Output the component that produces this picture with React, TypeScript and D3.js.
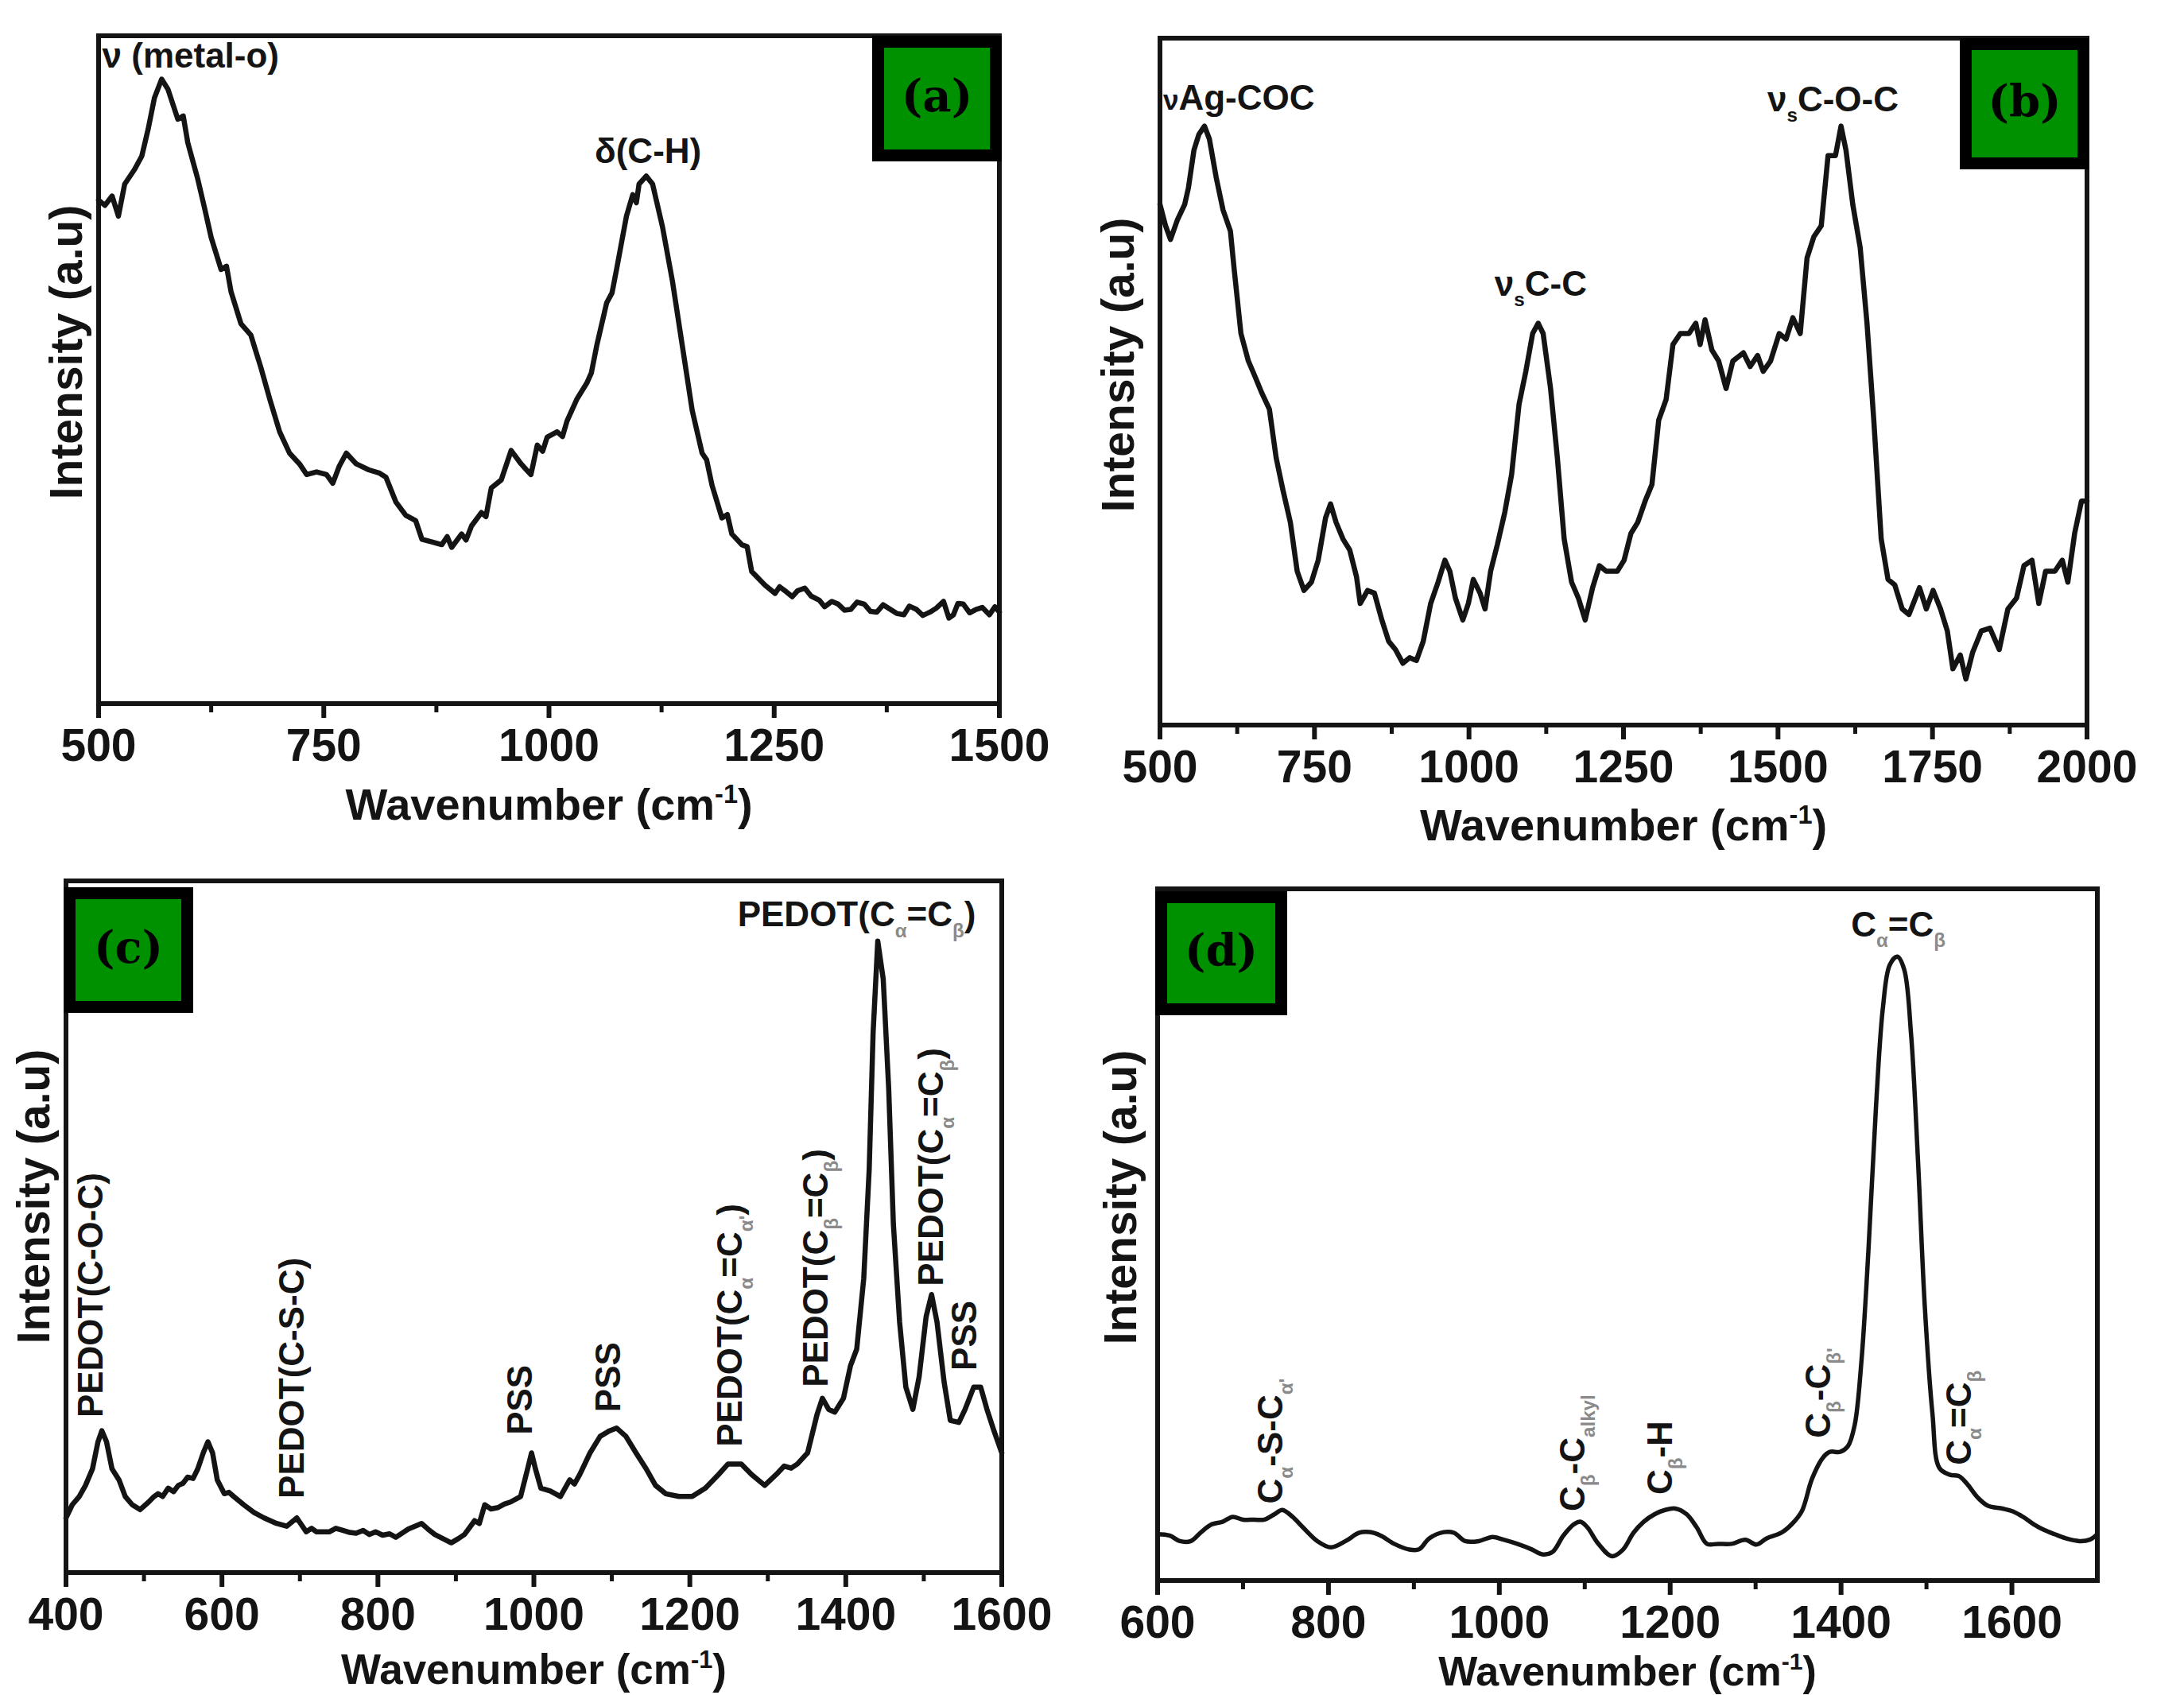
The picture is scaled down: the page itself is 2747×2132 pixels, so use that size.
import React from "react";
import * as d3 from "d3";

// ---- spectra, [wavenumber, intensity %] ----
const specA: [number, number][] = [
  [500, 75.4], [507, 74.6], [515, 76], [522, 73], [529, 77.8], [540, 80], [548, 82], [555, 86], [562, 90.7],
  [570, 93.5], [577, 92], [588, 87.5], [594, 88], [599, 84], [610, 78.6], [618, 74], [625, 69.8], [636, 65],
  [642, 65.5], [647, 61.7], [658, 56.9], [669, 55.2], [674, 53], [680, 50.4], [690, 45.6], [701, 40.7],
  [712, 37.5], [723, 35.9], [731, 34.3], [742, 34.7], [753, 34.3], [760, 33], [767, 35.5], [775, 37.5],
  [786, 35.9], [800, 35], [812, 34.5], [819, 33.9], [830, 30.2], [841, 28.2], [852, 27.4], [859, 24.6],
  [870, 24.2], [881, 23.8], [887, 25], [892, 23.4], [903, 25.4], [908, 24.5], [914, 26.6], [925, 28.6],
  [930, 28], [936, 32.3], [947, 33.5], [958, 37.9], [969, 35.9], [975, 35], [980, 34.3], [987, 38.7],
  [993, 37.8], [998, 39.9], [1009, 40.7], [1015, 40], [1020, 42.3], [1031, 45.6], [1042, 48], [1047, 49.5],
  [1053, 53.6], [1064, 60], [1070, 61.5], [1075, 65], [1086, 73], [1093, 76.2], [1097, 75], [1100, 77.8],
  [1108, 79], [1115, 77.8], [1126, 71.4], [1137, 63.3], [1148, 53.6], [1159, 43.9], [1170, 37.5],
  [1175, 36.5], [1181, 32.7], [1192, 27.8], [1198, 28.3], [1203, 25.4], [1214, 23.8], [1220, 23.5],
  [1225, 19.8], [1240, 17.7], [1251, 16.5], [1256, 17.5], [1262, 16.9], [1270, 16], [1276, 16.9],
  [1284, 17.3], [1291, 16.1], [1300, 15.5], [1306, 14.5], [1314, 15.3], [1321, 14.9], [1328, 14],
  [1335, 14.1], [1342, 15.2], [1350, 14.9], [1357, 13.8], [1364, 13.7], [1371, 14.8], [1379, 14.1],
  [1386, 13.5], [1394, 13.3], [1400, 14.6], [1408, 14.1], [1415, 13.2], [1423, 13.7], [1430, 14.3],
  [1438, 15.3], [1444, 12.8], [1449, 13.3], [1454, 15], [1460, 14.9], [1467, 13.6], [1474, 14.1],
  [1481, 14.4], [1489, 13.3], [1495, 14.5], [1500, 13.7],
];

const specB: [number, number][] = [
  [500, 75.8], [509, 72.7], [517, 70.7], [528, 73.5], [540, 75.8], [546, 78.2], [555, 83.7], [563, 86],
  [572, 87.2], [580, 85.3], [591, 79.7], [602, 75], [614, 71.9], [620, 66.4], [631, 57], [643, 53],
  [654, 50.7], [665, 48.3], [677, 46], [688, 38.9], [699, 34.2], [711, 29.5], [722, 22.4], [733, 19.6],
  [745, 20.8], [756, 24], [768, 30.2], [776, 32.2], [785, 29.5], [796, 27.1], [807, 25.5], [818, 21.6],
  [824, 17.7], [836, 19.6], [847, 19.2], [859, 15.3], [870, 12.2], [881, 11], [893, 9], [904, 9.8],
  [915, 9.4], [926, 12.2], [938, 17.7], [950, 20.8], [961, 24], [969, 22.4], [978, 18.5], [990, 15.3],
  [999, 17.7], [1007, 21.2], [1018, 19.2], [1026, 16.9], [1035, 22.4], [1046, 26.3], [1058, 31],
  [1069, 36.5], [1081, 46.7], [1092, 51.5], [1103, 57], [1112, 58.5], [1120, 57], [1132, 49], [1143, 38.9],
  [1154, 27.1], [1166, 20.8], [1177, 18.5], [1188, 15.3], [1200, 20], [1211, 23.2], [1222, 22.4],
  [1240, 22.4], [1251, 24], [1262, 27.9], [1273, 29.5], [1285, 32.6], [1296, 35], [1307, 44.4],
  [1319, 47.4], [1330, 55.4], [1342, 57], [1356, 57], [1367, 58.5], [1374, 55.4], [1382, 59], [1393, 54.6],
  [1404, 53], [1416, 49], [1427, 53], [1444, 54.2], [1455, 52.2], [1467, 53.8], [1476, 51.5], [1488, 53],
  [1502, 57], [1513, 56.2], [1524, 59.3], [1536, 57], [1547, 68], [1558, 71.1], [1570, 72.7], [1581, 82.9],
  [1593, 82.9], [1602, 87.2], [1610, 83.7], [1621, 75.8], [1633, 69.5], [1644, 58.5], [1655, 44.4],
  [1667, 27.1], [1678, 21.2], [1689, 20.4], [1701, 16.9], [1712, 16.1], [1729, 20], [1740, 16.9],
  [1751, 19.6], [1763, 16.9], [1774, 13.7], [1783, 8.2], [1795, 10.2], [1804, 6.7], [1815, 10.6],
  [1829, 13.7], [1843, 14.1], [1858, 11], [1872, 16.9], [1886, 18.5], [1898, 23.2], [1911, 24],
  [1922, 17.7], [1933, 22.4], [1948, 22.4], [1960, 24], [1969, 20.8], [1980, 27.9], [1991, 32.6],
  [2000, 32.6],
];

const specC: [number, number][] = [
  [400, 7.9], [408, 9.8], [417, 11], [425, 12.6], [434, 15], [441, 18.9], [446, 20.5], [452, 18.9],
  [459, 15], [468, 13.4], [476, 11], [485, 9.8], [495, 9.1], [506, 10.2], [512, 10.9], [518, 11.4],
  [524, 11], [531, 12.2], [538, 11.7], [544, 12.6], [550, 12.9], [556, 13.8], [563, 13.6], [569, 15],
  [576, 17.3], [582, 18.9], [588, 17.3], [594, 13.4], [603, 11.4], [609, 11.6], [615, 11], [628, 9.8],
  [641, 8.7], [654, 7.9], [670, 7.1], [683, 6.7], [696, 7.9], [708, 5.9], [715, 6.4], [721, 5.9],
  [738, 5.9], [746, 6.4], [755, 6.1], [764, 5.8], [772, 5.7], [781, 6.1], [789, 5.5], [797, 5.9],
  [806, 5.4], [815, 5.6], [823, 5.1], [839, 6.3], [856, 7.1], [864, 6.3], [873, 5.5], [894, 4.3],
  [903, 4.9], [911, 5.5], [924, 7.5], [930, 7.1], [937, 9.8], [945, 9.2], [954, 9.4], [962, 9.9],
  [970, 10.2], [983, 11], [992, 15], [997, 17.3], [1002, 15], [1009, 12.2], [1021, 11.8], [1034, 11],
  [1046, 13.4], [1052, 12.8], [1059, 14.2], [1072, 17.3], [1085, 19.7], [1097, 20.5], [1106, 20.9],
  [1118, 19.7], [1131, 17.3], [1144, 15], [1156, 12.6], [1169, 11.4], [1186, 11], [1203, 11], [1220, 12.2],
  [1237, 14.2], [1249, 15.7], [1266, 15.7], [1279, 14.2], [1296, 12.6], [1311, 14.2], [1321, 15.4],
  [1330, 15.1], [1338, 15.7], [1351, 17.3], [1363, 22.8], [1370, 25.2], [1378, 23.6], [1386, 23.2],
  [1397, 25.2], [1406, 29.9], [1414, 32.3], [1423, 42.5], [1430, 58.3], [1435, 78], [1441, 91.3],
  [1448, 85.8], [1455, 70], [1461, 50.4], [1469, 36.2], [1477, 26.8], [1486, 23.6], [1494, 28.3],
  [1503, 37], [1510, 40.2], [1517, 36.2], [1526, 27.6], [1534, 22], [1545, 21.7], [1553, 23.6],
  [1564, 26.8], [1573, 26.8], [1581, 23.6], [1590, 20.5], [1600, 17.3],
];

const specD: [number, number][] = [
  [600, 6.7], [614, 6.5], [626, 5.7], [639, 5.7], [651, 7], [663, 8.1], [676, 8.5], [688, 9.2], [700, 8.8],
  [713, 8.8], [725, 8.8], [737, 9.6], [746, 10.2], [758, 9.2], [770, 7.7], [787, 5.7], [803, 4.8],
  [820, 5.7], [836, 6.9], [848, 7], [861, 6.5], [877, 5.3], [894, 4.5], [906, 4.5], [918, 6.1], [935, 7],
  [947, 6.9], [960, 5.7], [976, 5.7], [992, 6.3], [1005, 5.9], [1021, 5.3], [1038, 4.5], [1050, 3.8],
  [1062, 4.1], [1075, 6.5], [1087, 8.1], [1095, 8.5], [1103, 7.7], [1116, 5.3], [1132, 3.5], [1145, 4.5],
  [1157, 6.9], [1169, 8.5], [1182, 9.6], [1194, 10.2], [1206, 10.4], [1219, 9.6], [1231, 7.7], [1243, 5.3],
  [1256, 5.3], [1272, 5.3], [1288, 5.9], [1301, 5.2], [1313, 6.1], [1330, 6.9], [1342, 8.1], [1354, 10],
  [1366, 14.7], [1379, 17.8], [1387, 18.6], [1399, 18.6], [1408, 19.4], [1416, 22.5], [1424, 31.9],
  [1432, 47.6], [1441, 68.7], [1449, 82.8], [1457, 89], [1466, 90.2], [1474, 88.3], [1482, 78.9],
  [1490, 60.9], [1498, 39.7], [1507, 24.1], [1515, 16.3], [1527, 15.3], [1538, 15.1], [1548, 13.9],
  [1560, 12], [1572, 10.8], [1589, 10.4], [1601, 10], [1613, 9.2], [1626, 8.1], [1638, 7.3], [1650, 6.7],
  [1663, 6.1], [1679, 5.7], [1691, 5.9], [1700, 6.7],
];

// ---- ticks ----
const ticksA = [500, 750, 1000, 1250, 1500];
const minorA = [625, 875, 1125, 1375];
const ticksB = [500, 750, 1000, 1250, 1500, 1750, 2000];
const minorB = [625, 875, 1125, 1375, 1625, 1875];
const ticksC = [400, 600, 800, 1000, 1200, 1400, 1600];
const minorC = [500, 700, 900, 1100, 1300, 1500];
const ticksD = [600, 800, 1000, 1200, 1400, 1600];
const minorD = [700, 900, 1100, 1300, 1500];

// ---- peak labels: x wavenumber, y intensity % where the text starts ----
type Part = [string, string?];
type Label = { x: number; y: number; rot?: boolean; anchor?: string; parts: Part[] };

const labelsA: Label[] = [
  { x: 504, y: 95.2, anchor: "start", parts: [["ν (metal-o)"]] },
  { x: 1110, y: 81, anchor: "middle", parts: [["δ(C-H)"]] },
];
const labelsB: Label[] = [
  { x: 505, y: 89.6, anchor: "start", parts: [["ν", "small"], ["Ag-COC"]] },
  { x: 1116, y: 62.5, anchor: "middle", parts: [["ν"], ["s", "sub"], ["C-C"]] },
  { x: 1589, y: 89.4, anchor: "middle", parts: [["ν"], ["s", "sub"], ["C-O-C"]] },
];
const labelsC: Label[] = [
  { x: 447, y: 22.4, rot: true, parts: [["PEDOT(C-O-C)"]] },
  { x: 705, y: 10.7, rot: true, parts: [["PEDOT(C-S-C)"]] },
  { x: 997, y: 19.9, rot: true, parts: [["PSS"]] },
  { x: 1111, y: 23.2, rot: true, parts: [["PSS"]] },
  { x: 1267, y: 18.2, rot: true, parts: [["PEDOT(C"], ["α", "sub"], ["=C"], ["α'", "sub"], [")"]] },
  { x: 1377, y: 26.8, rot: true, parts: [["PEDOT(C"], ["β", "sub"], ["=C"], ["β", "sub"], [")"]] },
  { x: 1525, y: 41.4, rot: true, parts: [["PEDOT(C"], ["α", "sub"], ["=C"], ["β", "sub"], [")"]] },
  { x: 1567, y: 29.2, rot: true, parts: [["PSS"]] },
  { x: 1414, y: 93.4, anchor: "middle", parts: [["PEDOT(C"], ["α", "sub"], ["=C"], ["β", "sub"], [")"]] },
];
const labelsD: Label[] = [
  { x: 746, y: 11.1, rot: true, parts: [["C"], ["α", "sub"], ["-S-C"], ["α'", "sub"]] },
  { x: 1100, y: 10, rot: true, parts: [["C"], ["β", "sub"], ["-C"], ["alkyl", "sub"]] },
  { x: 1202, y: 12.4, rot: true, parts: [["C"], ["β", "sub"], ["-H"]] },
  { x: 1387, y: 20.6, rot: true, parts: [["C"], ["β", "sub"], ["-C"], ["β'", "sub"]] },
  { x: 1467, y: 93.1, anchor: "middle", parts: [["C"], ["α", "sub"], ["=C"], ["β", "sub"]] },
  { x: 1552, y: 16.7, rot: true, parts: [["C"], ["α", "sub"], ["=C"], ["β", "sub"]] },
];

const SANS = "'Liberation Sans', Arial, Helvetica, sans-serif";
const SERIF = "'DejaVu Serif', 'Liberation Serif', serif";
const INK = "#141414";

function Rich({ parts, size, subFill }: { parts: Part[]; size: number; subFill: string }) {
  let cur = 0;
  return (
    <>
      {parts.map((p, i) => {
        const kind = p[1];
        const target = kind === "sub" ? size * 0.3 : kind === "sup" ? -size * 0.42 : 0;
        const dy = target - cur;
        cur = target;
        const fs = kind === "sub" || kind === "sup" ? size * 0.55 : kind === "small" ? size * 0.8 : size;
        return (
          <tspan key={i} dy={dy} fontSize={fs} fill={kind === "sub" ? subFill : undefined}>
            {p[0]}
          </tspan>
        );
      })}
    </>
  );
}

type PanelProps = {
  left: number; right: number; top: number; bottom: number;
  domain: [number, number]; ticks: number[]; minor: number[];
  data: [number, number][]; labels: Label[];
  box: { x: number; y: number; w: number; h: number }; tag: string;
  yTitle: { x: number; y: number }; xTitleY: number; xTitleSize: number;
  smooth?: boolean; lineW: number; subFill: string;
};

function Panel(p: PanelProps) {
  const x = d3.scaleLinear().domain(p.domain).range([p.left, p.right]);
  const y = d3.scaleLinear().domain([0, 100]).range([p.bottom, p.top]);
  const line = d3
    .line<[number, number]>()
    .x((d) => x(d[0]))
    .y((d) => y(d[1]))
    .curve(p.smooth ? d3.curveCatmullRom.alpha(0.5) : d3.curveLinear);
  const fs = 44;
  const ts = p.xTitleSize;
  return (
    <g>
      <path d={line(p.data) || ""} fill="none" stroke={INK} strokeWidth={p.lineW} strokeLinejoin="round" strokeLinecap="round" />
      <rect x={p.left} y={p.top} width={p.right - p.left} height={p.bottom - p.top} fill="none" stroke={INK} strokeWidth={6} />
      {p.ticks.map((t) => (
        <line key={"t" + t} x1={x(t)} x2={x(t)} y1={p.bottom} y2={p.bottom + 18} stroke={INK} strokeWidth={6} />
      ))}
      {p.minor.map((t) => (
        <line key={"m" + t} x1={x(t)} x2={x(t)} y1={p.bottom} y2={p.bottom + 11} stroke={INK} strokeWidth={5} />
      ))}
      {p.ticks.map((t) => (
        <text key={"l" + t} x={x(t)} y={p.bottom + 72} textAnchor="middle" fontFamily={SANS} fontWeight="bold" fontSize={57} fill={INK}>
          {t}
        </text>
      ))}
      <text x={(p.left + p.right) / 2} y={p.xTitleY} textAnchor="middle" fontFamily={SANS} fontWeight="bold" fontSize={ts} fill={INK}>
        Wavenumber (cm
        <tspan dy={-ts * 0.38} fontSize={ts * 0.58}>-1</tspan>
        <tspan dy={ts * 0.38}>)</tspan>
      </text>
      <text
        transform={`translate(${p.yTitle.x},${p.yTitle.y}) rotate(-90)`}
        dy="0.35em"
        textAnchor="middle"
        fontFamily={SANS}
        fontWeight="bold"
        fontSize={57}
        fill={INK}
      >
        Intensity (a.u)
      </text>
      {p.labels.map((l, i) =>
        l.rot ? (
          <text
            key={"pl" + i}
            transform={`translate(${x(l.x)},${y(l.y)}) rotate(-90)`}
            dy="0.36em"
            textAnchor="start"
            fontFamily={SANS}
            fontWeight="bold"
            fontSize={fs}
            fill={INK}
          >
            <Rich parts={l.parts} size={fs} subFill={p.subFill} />
          </text>
        ) : (
          <text key={"pl" + i} x={x(l.x)} y={y(l.y)} textAnchor={l.anchor || "middle"} fontFamily={SANS} fontWeight="bold" fontSize={fs} fill={INK}>
            <Rich parts={l.parts} size={fs} subFill={p.subFill} />
          </text>
        )
      )}
      <rect x={p.box.x + 7.5} y={p.box.y + 7.5} width={p.box.w - 15} height={p.box.h - 15} fill="#009100" stroke="#000" strokeWidth={15} />
      <text x={p.box.x + p.box.w / 2} y={p.box.y + p.box.h * 0.6} textAnchor="middle" fontFamily={SERIF} fontWeight="bold" fontSize={56} fill="#000">
        {p.tag}
      </text>
    </g>
  );
}

export default function App() {
  return (
    <div style={{ position: "absolute", left: 0, top: 0 }}>
      <svg width={2747} height={2132} viewBox="0 0 2747 2132" style={{ display: "block", background: "#fff" }}>
        <Panel
          left={124} right={1257} top={45} bottom={885} domain={[500, 1500]}
          ticks={ticksA} minor={minorA} data={specA} labels={labelsA}
          box={{ x: 1097, y: 45, w: 163, h: 158 }} tag="(a)"
          yTitle={{ x: 83, y: 443 }} xTitleY={1031} xTitleSize={56} lineW={6.5} subFill={INK}
        />
        <Panel
          left={1459} right={2625} top={48} bottom={912} domain={[500, 2000]}
          ticks={ticksB} minor={minorB} data={specB} labels={labelsB}
          box={{ x: 2465, y: 48, w: 163, h: 165 }} tag="(b)"
          yTitle={{ x: 1406, y: 459 }} xTitleY={1057} xTitleSize={56} lineW={6.5} subFill={INK}
        />
        <Panel
          left={83} right={1260} top={1108} bottom={1978} domain={[400, 1600]}
          ticks={ticksC} minor={minorC} data={specC} labels={labelsC}
          box={{ x: 80, y: 1116, w: 163, h: 158 }} tag="(c)"
          yTitle={{ x: 42, y: 1505 }} xTitleY={2118} xTitleSize={53} lineW={6.5} subFill="#8a8a8a"
        />
        <Panel
          left={1456} right={2638} top={1118} bottom={1988} domain={[600, 1700]}
          ticks={ticksD} minor={minorD} data={specD} labels={labelsD}
          box={{ x: 1453, y: 1121, w: 166, h: 156 }} tag="(d)"
          yTitle={{ x: 1409, y: 1506 }} xTitleY={2120} xTitleSize={52} smooth lineW={5.5} subFill="#8a8a8a"
        />
      </svg>
    </div>
  );
}
